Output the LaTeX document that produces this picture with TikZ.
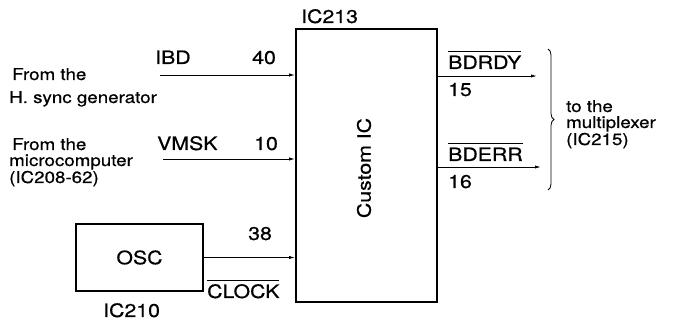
\documentclass[tikz,border=0pt]{standalone}
\usepackage{fontspec}
\setmainfont[FakeStretch=1.15,FakeBold=0.6]{TeX Gyre Heros}
\usetikzlibrary{arrows.meta,decorations.pathreplacing}
\newcommand{\ovl}[1]{$\overline{\hbox{\rule{0pt}{16.5pt}#1}}$}
\begin{document}
\begin{tikzpicture}[x=1pt,y=1pt,
  desc/.style={anchor=base west,inner sep=0pt,font=\fontsize{16.3}{18}\selectfont},
  lbl/.style={anchor=base west,inner sep=0pt,font=\fontsize{18.5}{21}\selectfont},
  blk/.style={draw,line width=1.7pt,inner sep=0pt},
  sig/.style={line width=0.9pt,-{Latex[length=6pt,width=3.2pt]}}]
\useasboundingbox (0,0) rectangle (685,323);
% blocks
\node[blk,minimum width=141pt,minimum height=273pt] (ic) at (366.5,157.5) {};
\node[rotate=90,font=\fontsize{18.5}{21}\selectfont] (icl) at (364,155) {Custom IC};
\node[blk,minimum width=127pt,minimum height=67pt] (osc) at (139.5,65.5) {};
\node[font=\fontsize{18.5}{21}\selectfont] (oscl) at (osc.center) {OSC};
\node[lbl] (ic213) at (301,300) {IC213};
\node[lbl] (ic210) at (103,6) {IC210};
% left inputs
\node[desc] (f1) at (12,243) {From the};
\node[desc] (f2) at (9,220) {H. sync generator};
\node[lbl] (ibd) at (155,259) {IBD};
\node[lbl] (p40) at (252,259) {40};
\coordinate (ibdS) at (160,248);
\draw[sig] (ibdS) -- (ibdS -| ic.west);
\node[desc] (g1) at (12,173) {From the};
\node[desc] (g2) at (9,157) {microcomputer};
\node[desc] (g3) at (9,140) {(IC208-62)};
\node[lbl] (vmsk) at (157,173) {VMSK};
\node[lbl] (p10) at (254,173) {10};
\coordinate (vmskS) at (163,164);
\draw[sig] (vmskS) -- (vmskS -| ic.west);
\node[lbl] (p38) at (248,83) {38};
\draw[sig] (osc.east) -- (osc.east -| ic.west);
\node[lbl] (clk) at (207,25) {\ovl{CLOCK}};
% right outputs
\node[lbl] (bdrdy) at (448,254) {\ovl{BDRDY}};
\node[lbl] (p15) at (448,227) {15};
\coordinate (rdyE) at (537,247);
\draw[sig] (rdyE -| ic.east) -- (rdyE);
\node[lbl] (bderr) at (448,162) {\ovl{BDERR}};
\node[lbl] (p16) at (448,135) {16};
\coordinate (errE) at (541,156);
\draw[sig] (errE -| ic.east) -- (errE);
\coordinate (brT) at (548,274);
\coordinate (brB) at (548,133);
\draw[line width=0.8pt,decorate,decoration={brace,amplitude=6pt}] (brT) -- (brB);
\node[desc] (t1) at (566,211) {to the};
\node[desc] (t2) at (566,195) {multiplexer};
\node[desc] (t3) at (566,178) {(IC215)};
\end{tikzpicture}
\end{document}
